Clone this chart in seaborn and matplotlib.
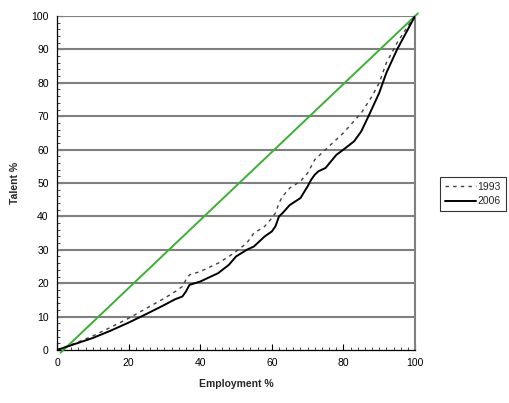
import matplotlib
matplotlib.use("Agg")
import matplotlib.pyplot as plt
import seaborn as sns
import pandas as pd
from matplotlib.ticker import MultipleLocator

emp_2006 = [0, 5, 10, 15, 20, 25, 30, 33, 35, 36, 37, 40, 43, 45, 48, 50, 53, 55, 58, 60, 61, 62, 63, 65, 68, 70, 71, 72, 73, 75, 78, 80, 83, 85, 87, 90, 92, 95, 98, 100]
tal_2006 = [0, 1.8, 3.6, 5.8, 8.2, 10.8, 13.5, 15.2, 16, 17.5, 19.5, 20.5, 22, 23, 25.5, 28, 30, 31, 34, 35.5, 37, 40, 41, 43.4, 45.5, 49, 51, 52.5, 53.5, 54.5, 58.4, 60, 62.5, 65.5, 70, 77, 83, 90, 96, 100]
emp_1993 = [0, 5, 10, 15, 20, 25, 30, 33, 35, 36, 37, 40, 43, 45, 48, 50, 53, 55, 58, 60, 61, 62, 63, 65, 68, 70, 72, 75, 78, 80, 85, 88, 90, 92, 95, 98, 100]
tal_1993 = [0, 2, 4.2, 6.8, 9.5, 12.5, 15.5, 17.5, 19, 21, 22.5, 23.5, 25, 26, 28, 29.5, 32, 35, 37, 39.5, 41, 44, 46, 48.5, 50.5, 53, 57, 60, 63, 65, 71, 76, 80, 86, 92, 97, 100]
equality_x = [1, 100.8]
equality_y = [-0.8, 100.8]
series_names = ["1993", "2006"]

sns.set_style("white")
plt.rcParams['font.family'] = ['Liberation Sans', 'DejaVu Sans']

fig = plt.figure(figsize=(5.1, 4.03), dpi=100)
ax = fig.add_axes([0.1118, 0.1315, 0.7020, 0.8288])

df93 = pd.DataFrame({"x": emp_1993, "y": tal_1993})
df06 = pd.DataFrame({"x": emp_2006, "y": tal_2006})
dfeq = pd.DataFrame({"x": equality_x, "y": equality_y})

for yv in range(10, 101, 10):
    ax.axhline(yv, color="#808080", lw=1.5, zorder=1)

sns.lineplot(data=dfeq, x="x", y="y", ax=ax, color="#3cb034", lw=1.4, zorder=3, clip_on=False, sort=False)
sns.lineplot(data=df93, x="x", y="y", ax=ax, color="#404040", lw=1.0, zorder=4, label=series_names[0], sort=False)
ax.lines[-1].set_linestyle((0, (2.5, 3)))
sns.lineplot(data=df06, x="x", y="y", ax=ax, color="black", lw=1.4, zorder=5, label=series_names[1], sort=False)

ax.set_xlim(0, 100)
ax.set_ylim(0, 100)
ax.xaxis.set_major_locator(MultipleLocator(20))
ax.xaxis.set_minor_locator(MultipleLocator(2))
ax.yaxis.set_major_locator(MultipleLocator(10))
ax.yaxis.set_minor_locator(MultipleLocator(2))
ax.tick_params(axis="both", which="major", direction="in", length=4, width=0.8, labelsize=7.5, colors="black", pad=6)
ax.tick_params(axis="both", which="minor", direction="in", length=2, width=0.6)
ax.tick_params(bottom=True, left=True, which="both")

for s in ["left", "bottom"]:
    ax.spines[s].set_color("black")
    ax.spines[s].set_linewidth(0.9)
ax.spines["right"].set_color("#808080")
ax.spines["right"].set_linewidth(1.5)
ax.spines["top"].set_visible(False)

ax.set_xlabel("Employment %", fontsize=7.5, fontweight="bold", labelpad=8)
ax.set_ylabel("Talent %", fontsize=7.5, fontweight="bold", labelpad=8)

leg = ax.legend(loc="center left", bbox_to_anchor=(1.07, 0.467), frameon=True, fancybox=False,
                edgecolor="black", fontsize=7.5, handlelength=3.0, handletextpad=0.15,
                borderpad=0.45, labelspacing=0.45, borderaxespad=0)
leg.get_frame().set_linewidth(0.8)

fig.savefig("out.png", dpi=100, facecolor="white")
